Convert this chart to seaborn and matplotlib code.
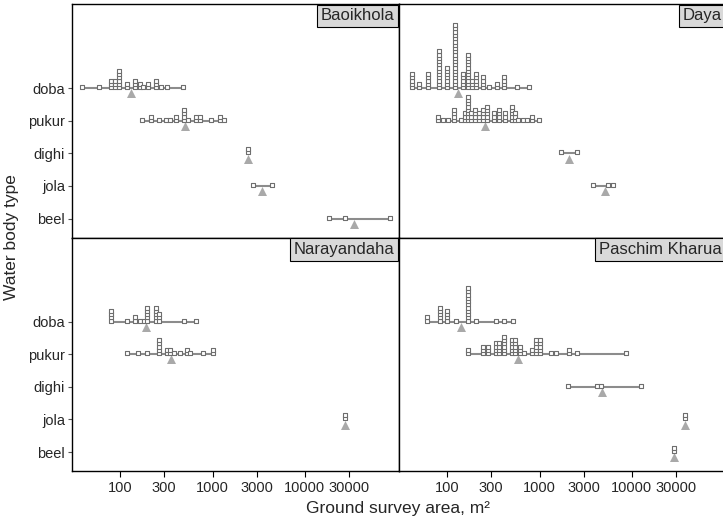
import numpy as np
import pandas as pd
import matplotlib
matplotlib.use("Agg")
import matplotlib.pyplot as plt
from matplotlib.ticker import NullLocator, FixedLocator, FixedFormatter
import seaborn as sns

types = ["doba", "pukur", "dighi", "jola", "beel"]
sites = ["Baoikhola", "Daya", "Narayandaha", "Paschim Kharua"]

# ground survey area (m2) of each dot column and how many dots are stacked there
bao_doba_area = [38.6, 58.5, 79.7, 86.7, 96.6, 119, 146, 162, 178, 201, 242, 274, 324, 479]
bao_doba_n = [1, 1, 3, 3, 6, 2, 3, 2, 1, 2, 3, 1, 1, 1]
bao_pukur_area = [173, 217, 263, 316, 343, 399, 491, 543, 658, 728, 975, 1200, 1327]
bao_pukur_n = [1, 2, 1, 1, 1, 2, 4, 1, 2, 2, 1, 2, 1]
bao_dighi_area = [2440]
bao_dighi_n = [2]
bao_jola_area = [2720, 4450]
bao_jola_n = [1, 1]
bao_beel_area = [18100, 27400, 83200]
bao_beel_n = [1, 1, 1]

daya_doba_area = [41, 49.2, 61.2, 82, 100, 121, 150, 167, 184, 204, 247, 284, 344, 413, 568, 762]
daya_doba_n = [5, 2, 5, 12, 7, 20, 5, 11, 3, 5, 4, 1, 2, 4, 1, 1]
daya_pukur_area = [78.7, 89.1, 101, 119, 141, 156, 167, 181, 200, 223, 247, 273, 325, 368,
                   424, 501, 544, 582, 655, 729, 826, 977]
daya_pukur_n = [2, 1, 1, 4, 1, 3, 8, 3, 4, 3, 4, 5, 3, 4, 3, 5, 3, 1, 1, 1, 2, 1]
daya_dighi_area = [1690, 2530]
daya_dighi_n = [1, 1]
daya_jola_area = [3780, 5580, 6240]
daya_jola_n = [1, 1, 1]

nar_doba_area = [79.8, 118, 146, 165, 179, 197, 242, 263, 488, 658]
nar_doba_n = [4, 1, 2, 1, 1, 5, 5, 3, 1, 1]
nar_pukur_area = [118, 155, 195, 263, 321, 349, 379, 441, 530, 576, 791, 1000]
nar_pukur_n = [1, 1, 1, 5, 2, 2, 1, 1, 2, 1, 1, 2]
nar_jola_area = [27400]
nar_jola_n = [2]

pk_doba_area = [60.8, 83.3, 100, 123, 169, 205, 336, 413, 510]
pk_doba_n = [2, 5, 4, 1, 11, 1, 1, 1, 1]
pk_pukur_area = [167, 247, 275, 336, 365, 413, 501, 544, 617, 682, 826, 914, 1018, 1341,
                 1520, 2070, 2550, 8550]
pk_pukur_n = [2, 3, 3, 4, 4, 6, 5, 5, 3, 1, 2, 5, 5, 1, 1, 2, 1, 1]
pk_dighi_area = [2050, 4240, 4650, 12560]
pk_dighi_n = [1, 1, 1, 1]
pk_jola_area = [38000]
pk_jola_n = [2]
pk_beel_area = [28400]
pk_beel_n = [2]

groups = [
    ("Baoikhola", "doba", bao_doba_area, bao_doba_n),
    ("Baoikhola", "pukur", bao_pukur_area, bao_pukur_n),
    ("Baoikhola", "dighi", bao_dighi_area, bao_dighi_n),
    ("Baoikhola", "jola", bao_jola_area, bao_jola_n),
    ("Baoikhola", "beel", bao_beel_area, bao_beel_n),
    ("Daya", "doba", daya_doba_area, daya_doba_n),
    ("Daya", "pukur", daya_pukur_area, daya_pukur_n),
    ("Daya", "dighi", daya_dighi_area, daya_dighi_n),
    ("Daya", "jola", daya_jola_area, daya_jola_n),
    ("Narayandaha", "doba", nar_doba_area, nar_doba_n),
    ("Narayandaha", "pukur", nar_pukur_area, nar_pukur_n),
    ("Narayandaha", "jola", nar_jola_area, nar_jola_n),
    ("Paschim Kharua", "doba", pk_doba_area, pk_doba_n),
    ("Paschim Kharua", "pukur", pk_pukur_area, pk_pukur_n),
    ("Paschim Kharua", "dighi", pk_dighi_area, pk_dighi_n),
    ("Paschim Kharua", "jola", pk_jola_area, pk_jola_n),
    ("Paschim Kharua", "beel", pk_beel_area, pk_beel_n),
]

ybase = {t: 4 - i for i, t in enumerate(types)}
step = 0.1

rows = []
for site, t, areas, counts in groups:
    for a, n in zip(areas, counts):
        for k in range(n):
            rows.append({"site": site, "type": t, "area": a, "ypos": ybase[t] + 0.03 + k * step})
dots = pd.DataFrame(rows)

sns.set_theme(style="white")
plt.rcParams["font.family"] = ["Liberation Sans", "DejaVu Sans"]

sq_c = "#6e6e6e"
line_c = "#8c8c8c"
tri_c = "#a9a9a9"

W, H = 723, 518
fig = plt.figure(figsize=(W / 100, H / 100), dpi=100)
pos = {"Baoikhola": (72, 4), "Daya": (399, 4),
       "Narayandaha": (72, 237.5), "Paschim Kharua": (399, 237.5)}
pw, ph = 327, 233.5
xt = [100, 300, 1000, 3000, 10000, 30000]

for site in sites:
    x0, y0 = pos[site]
    ax = fig.add_axes([x0 / W, 1 - (y0 + ph) / H, pw / W, ph / H])
    sub = dots[dots.site == site]
    for t, g in sub.groupby("type"):
        yb = ybase[t]
        ax.hlines(yb, g.area.min(), g.area.max(), color=line_c, lw=1.5, zorder=1)
        gm = 10 ** np.mean(np.log10(g.area))
        ax.scatter([gm], [yb - 0.16], marker="^", s=42, color=tri_c, linewidths=0, zorder=2)
    sns.scatterplot(data=sub, x="area", y="ypos", marker="s", s=7, color="white",
                    edgecolor=sq_c, linewidth=0.8, ax=ax, legend=False, zorder=3)
    ax.set_xscale("log")
    ax.set_xlim(30, 105000)
    ax.set_ylim(-0.58, 6.58)
    ax.xaxis.set_major_locator(FixedLocator(xt))
    ax.xaxis.set_major_formatter(FixedFormatter([str(v) for v in xt]))
    ax.xaxis.set_minor_locator(NullLocator())
    ax.set_yticks([ybase[t] for t in types])
    ax.set_xlabel("")
    ax.set_ylabel("")
    for sp in ax.spines.values():
        sp.set_color("black")
        sp.set_linewidth(1.0)
    bottom = site in ("Narayandaha", "Paschim Kharua")
    left = site in ("Baoikhola", "Narayandaha")
    ax.tick_params(axis="x", bottom=bottom, labelbottom=bottom, direction="out",
                   length=4, width=0.8, color="black", labelsize=10.5, pad=3)
    if left:
        ax.set_yticklabels(types)
        ax.tick_params(axis="y", left=True, direction="out", length=3, width=0.8,
                       color="#555555", labelsize=10.5, pad=2)
    else:
        ax.tick_params(axis="y", left=False, labelleft=False)
    ax.annotate(site, xy=(1, 1), xycoords="axes fraction", xytext=(-3.2, -3.2),
                textcoords="offset points", ha="right", va="top", fontsize=12,
                bbox=dict(boxstyle="square,pad=0.22", fc="#d9d9d9", ec="black", lw=0.8))

fig.text(12 / W, 1 - 237 / H, "Water body type", rotation=90, ha="center", va="center",
         fontsize=12.5)
fig.text(398 / W, 1 - 508 / H, "Ground survey area, m²", ha="center", va="center",
         fontsize=12.5)

fig.savefig("out.png", dpi=100)
